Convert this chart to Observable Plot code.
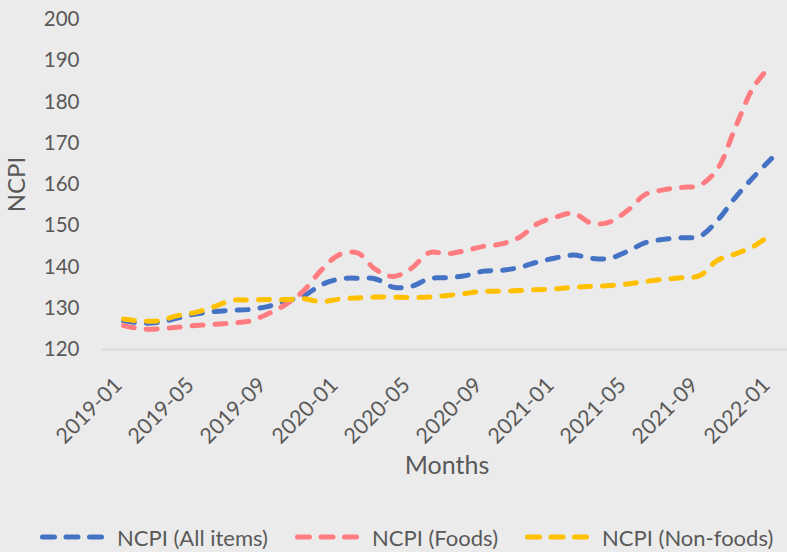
<!DOCTYPE html>
<html>
<head>
<meta charset="utf-8">
<script src="https://cdn.jsdelivr.net/npm/d3@7"></script>
<script src="https://cdn.jsdelivr.net/npm/@observablehq/plot@0.6"></script>
<style>
  html, body { margin: 0; padding: 0; background: #ebebeb; overflow: hidden; }
  #chart svg { display: block; }
  .legend { height: 30px; display: flex; align-items: center; padding-left: 40px; font-family: Lato, sans-serif; font-size: 22px; color: #595959; white-space: nowrap; }
  .legend .item { display: flex; align-items: center; margin-right: 27px; }
  .legend svg { margin-right: 13px; }
</style>
</head>
<body>
<div id="chart"></div>
<script>
const months = ["2019-01","2019-02","2019-03","2019-04","2019-05","2019-06","2019-07","2019-08","2019-09","2019-10","2019-11","2019-12",
  "2020-01","2020-02","2020-03","2020-04","2020-05","2020-06","2020-07","2020-08","2020-09","2020-10","2020-11","2020-12",
  "2021-01","2021-02","2021-03","2021-04","2021-05","2021-06","2021-07","2021-08","2021-09","2021-10","2021-11","2021-12","2022-01"];
const allItems = [127.0,126.4,126.6,127.6,128.6,129.2,129.5,129.7,130.4,131.7,133.0,135.7,
  137.1,137.3,137.1,135.1,135.3,137.2,137.4,137.9,139.0,139.2,139.9,141.2,
  142.2,142.9,142.1,142.1,143.8,145.9,146.7,147.1,147.4,151.3,156.9,161.8,166.3];
const foods = [125.8,125.0,125.0,125.4,125.8,126.1,126.4,126.9,128.6,130.9,134.2,139.3,
  143.0,143.4,139.4,137.7,139.7,143.5,143.2,144.0,145.0,145.6,147.2,150.5,
  152.1,153.0,150.6,150.9,153.7,157.6,158.7,159.3,159.8,163.8,173.9,183.6,189.0];
const nonFoods = [127.4,126.9,127.0,128.2,129.0,130.3,131.9,132.0,132.1,132.1,132.3,131.6,
  132.2,132.5,132.7,132.7,132.6,132.7,133.1,133.6,134.1,134.1,134.3,134.5,
  134.7,135.1,135.3,135.5,135.9,136.5,137.0,137.4,137.9,141.6,143.2,145.0,148.0];
const seriesNames = ["NCPI (All items)", "NCPI (Foods)", "NCPI (Non-foods)"];
const seriesColors = ["#4472C4", "#FF7C80", "#FFC000"];
const yTicks = [120,130,140,150,160,170,180,190,200];
const xTicks = months.filter((m, i) => i % 4 === 0);

const series = [allItems, foods, nonFoods];
const tables = series.map(vals => months.map((m, i) => ({month: m, value: vals[i]})));

const chart = Plot.plot({
  width: 787,
  height: 522,
  marginLeft: 110,
  marginRight: 4,
  marginTop: 19,
  marginBottom: 173,
  style: {background: "#ebebeb", fontFamily: "Lato, sans-serif", fontSize: "20px", color: "#595959"},
  x: {type: "point", domain: months, padding: 0},
  y: {domain: [120, 200]},
  marks: [
    Plot.ruleY([120], {stroke: "#d9d9d9", strokeWidth: 2, insetLeft: -8, insetRight: -4}),
    Plot.axisY({ticks: yTicks, tickSize: 0, tickPadding: 31, label: null, fontSize: 20.5}),
    Plot.axisY({ticks: [], tickSize: 0, label: "NCPI", labelAnchor: "center", labelArrow: "none", labelOffset: 103, fontSize: 24}),
    Plot.axisX({ticks: xTicks, tickSize: 0, tickPadding: 32, tickRotate: -45, dx: -5, label: null, fontSize: 21.5}),
    Plot.axisX({ticks: [], tickSize: 0, label: "Months", labelAnchor: "center", labelArrow: "none", labelOffset: 124, fontSize: 25}),
    ...tables.map((t, k) => Plot.line(t, {x: "month", y: "value", stroke: seriesColors[k], strokeWidth: 5, strokeDasharray: "11,12", strokeLinecap: "round", curve: "catmull-rom"}))
  ]
});
document.getElementById("chart").appendChild(chart);

const legend = document.createElement("div");
legend.className = "legend";
seriesNames.forEach((name, k) => {
  const item = document.createElement("div");
  item.className = "item";
  item.innerHTML = `<svg width="64" height="10"><line x1="2.5" y1="5" x2="61.5" y2="5" stroke="${seriesColors[k]}" stroke-width="5" stroke-linecap="round" stroke-dasharray="12,11.5"/></svg><span>${name}</span>`;
  legend.appendChild(item);
});
document.body.appendChild(legend);
</script>
</body>
</html>
